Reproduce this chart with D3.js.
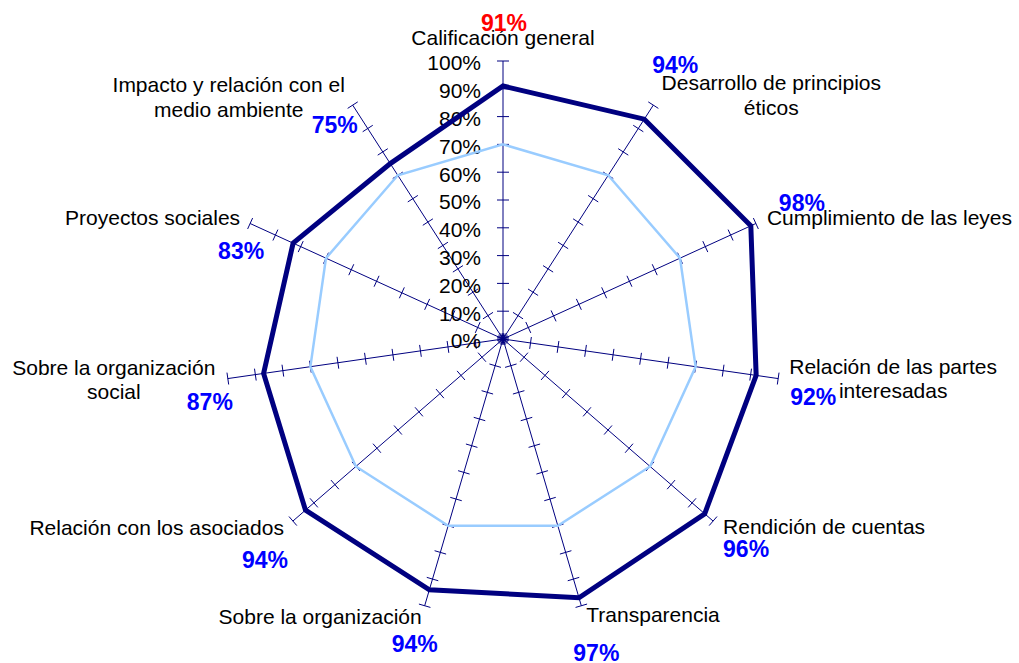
<!DOCTYPE html>
<html>
<head>
<meta charset="utf-8">
<script src="https://cdn.jsdelivr.net/npm/d3@7"></script>
<style>
  body { margin: 0; background: #fff; }
  text { font-family: "Liberation Sans", Arial, sans-serif; }
</style>
</head>
<body>
<div class="graph"></div>
<script>
// Radar de calificación por componente (RSE)

var categories = [
    ["Calificación general"],
    ["Desarrollo de principios", "éticos"],
    ["Cumplimiento de las leyes"],
    ["Relación de las partes", "interesadas"],
    ["Rendición de cuentas"],
    ["Transparencia"],
    ["Sobre la organización"],
    ["Relación con los asociados"],
    ["Sobre la organización", "social"],
    ["Proyectos sociales"],
    ["Impacto y relación con el", "medio ambiente"]
];
var calificacion = [91, 94, 98, 92, 96, 97, 94, 94, 87, 83, 75];
var meta = [70, 70, 70, 70, 70, 70, 70, 70, 70, 70, 70];
var ticks = [0, 10, 20, 30, 40, 50, 60, 70, 80, 90, 100];

var width = 1019, height = 663;
var cx = 503, cy = 339;

// label placement around the axis ends: [anchor, dx, dy]
var cat_pos = [
    ["middle", 0, -23], ["middle", 118, -22], ["start", 11, -5.5], ["middle", 115, -12],
    ["start", 10, 6], ["start", 5, 9], ["end", -3, 11], ["end", -9, 7],
    ["middle", -114, -11], ["end", -10, -5.5], ["middle", -124, -20]
];
var val_pos = [
    [1, -38], [22, -40], [46, -20.5], [35, 18.4], [33, 28], [15, 47],
    [-10, 38], [-28, 39], [-18, 23], [-9, 27.5], [-18, 20]
];

var svg = d3.select('.graph').append('svg')
            .attr('width', width)
            .attr('height', height);

var rScale = d3.scaleLinear().domain([0, 100]).range([0, 278]);
var angle = d3.scaleLinear().domain([0, categories.length]).range([0, 2 * Math.PI]);

function pt(i, v) {
    var a = angle(i);
    return [cx + rScale(v) * Math.sin(a), cy - rScale(v) * Math.cos(a)];
}

var axis_color = "#000080";

// axes
var axes = svg.append('g').attr('class', 'axes');
categories.forEach(function(c, i) {
    var end = pt(i, 100);
    axes.append('line')
        .attr('x1', cx).attr('y1', cy)
        .attr('x2', end[0]).attr('y2', end[1])
        .style('stroke', axis_color)
        .style('stroke-width', 1);
    var a = angle(i);
    var px = Math.cos(a) * 6, py = Math.sin(a) * 6;
    ticks.forEach(function(t) {
        var p = pt(i, t);
        axes.append('line')
            .attr('x1', p[0] - px).attr('y1', p[1] - py)
            .attr('x2', p[0] + px).attr('y2', p[1] + py)
            .style('stroke', axis_color)
            .style('stroke-width', 1);
    });
});

// tick labels on the first axis
svg.append('g').selectAll('text')
    .data(ticks)
    .enter()
    .append('text')
    .attr('x', cx - 22)
    .attr('y', function(d) { return pt(0, d)[1] + 2; })
    .attr('dy', '0.35em')
    .attr('text-anchor', 'end')
    .attr('font-size', '21px')
    .style('fill', '#000')
    .text(function(d) { return d + '%'; });

// series
var line = d3.line().curve(d3.curveLinearClosed);

svg.append('path')
    .attr('d', line(meta.map(function(v, i) { return pt(i, v); })))
    .style('fill', 'none')
    .style('stroke', '#99CCFF')
    .style('stroke-width', 2.5);

svg.append('path')
    .attr('d', line(calificacion.map(function(v, i) { return pt(i, v); })))
    .style('fill', 'none')
    .style('stroke', '#000080')
    .style('stroke-width', 5)
    .style('stroke-linejoin', 'miter');

// category labels
categories.forEach(function(c, i) {
    var end = pt(i, 100);
    var pos = cat_pos[i];
    var t = svg.append('text')
        .attr('text-anchor', pos[0])
        .attr('font-size', '21px')
        .style('fill', '#000');
    c.forEach(function(s, k) {
        t.append('tspan')
            .attr('x', end[0] + pos[1])
            .attr('y', end[1] + pos[2] + k * 24.5)
            .attr('dy', '0.35em')
            .text(s);
    });
});

// value labels
svg.append('g').selectAll('text')
    .data(calificacion)
    .enter()
    .append('text')
    .attr('x', function(d, i) { return pt(i, 100)[0] + val_pos[i][0]; })
    .attr('y', function(d, i) { return pt(i, 100)[1] + val_pos[i][1]; })
    .attr('dy', '0.35em')
    .attr('text-anchor', 'middle')
    .attr('font-size', '23px')
    .attr('font-weight', 'bold')
    .style('fill', function(d, i) { return i === 0 ? '#FF0000' : '#0000FF'; })
    .text(function(d) { return d + '%'; });
</script>
</body>
</html>
